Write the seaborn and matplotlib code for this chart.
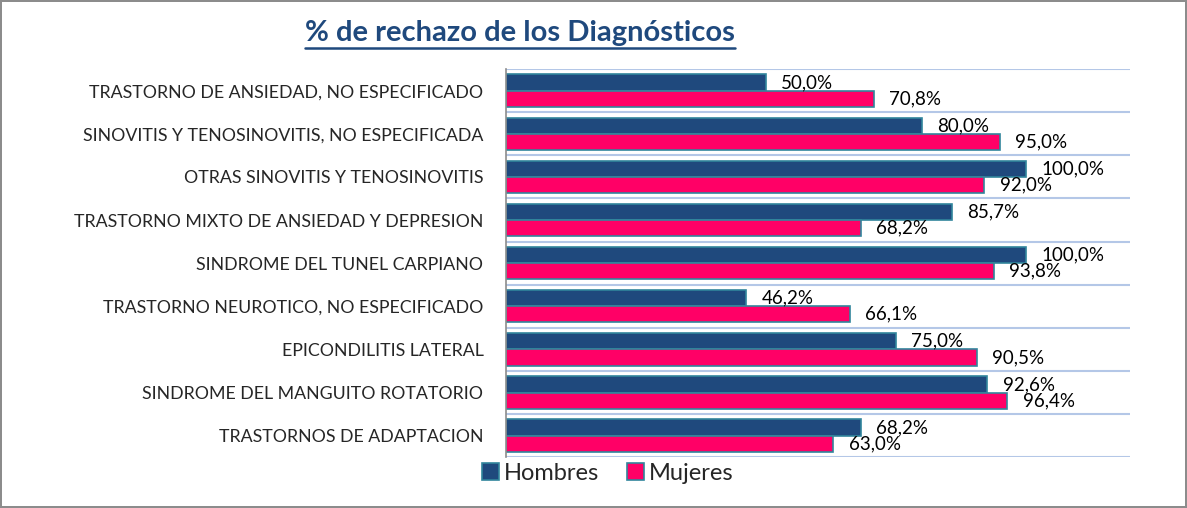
import numpy as np
import pandas as pd
import matplotlib
matplotlib.use("Agg")
import matplotlib.pyplot as plt
import seaborn as sns

# Diagnostic categories, top to bottom
categories = [
    "TRASTORNO DE ANSIEDAD, NO ESPECIFICADO",
    "SINOVITIS Y TENOSINOVITIS, NO ESPECIFICADA",
    "OTRAS SINOVITIS Y TENOSINOVITIS",
    "TRASTORNO MIXTO DE ANSIEDAD Y DEPRESION",
    "SINDROME DEL TUNEL CARPIANO",
    "TRASTORNO NEUROTICO, NO ESPECIFICADO",
    "EPICONDILITIS LATERAL",
    "SINDROME DEL MANGUITO ROTATORIO",
    "TRASTORNOS DE ADAPTACION",
]
hombres = [50.0, 80.0, 100.0, 85.7, 100.0, 46.2, 75.0, 92.6, 68.2]
mujeres = [70.8, 95.0, 92.0, 68.2, 93.8, 66.1, 90.5, 96.4, 63.0]
series = ["Hombres", "Mujeres"]
colors = ["#1F497D", "#FF0066"]

df = pd.DataFrame({
    "diag": categories * 2,
    "pct": hombres + mujeres,
    "sexo": [series[0]] * len(categories) + [series[1]] * len(categories),
})

sns.set_style("white")
plt.rcParams["font.family"] = ["Lato", "DejaVu Sans"]

fig = plt.figure(figsize=(11.87, 5.08), dpi=100)
fig.patch.set_edgecolor("#8C8C8C")
fig.patch.set_linewidth(1.5)
ax = fig.add_axes([0.426, 0.100, 0.526, 0.764])

sns.barplot(data=df, y="diag", x="pct", hue="sexo", order=categories,
            hue_order=series, palette=colors, width=0.75, orient="h",
            edgecolor="#31859C", linewidth=1.2, saturation=1, ax=ax)

# value labels with comma decimals
for cont, vals in zip(ax.containers, [hombres, mujeres]):
    ax.bar_label(cont, labels=[f"{v:.1f}%".replace(".", ",") for v in vals],
                 padding=11, fontsize=13.5, color="#000000")

ax.set_xlim(0, 120)
ax.set_ylim(len(categories) - 0.5, -0.5)
ax.set_xlabel("")
ax.set_ylabel("")
ax.set_xticks([])
ax.tick_params(axis="y", length=0, pad=16, labelsize=12.8)

# horizontal separators between categories
ax.set_yticks(np.arange(-0.5, len(categories), 1.0), minor=True)
ax.grid(which="minor", axis="y", color="#B4C7E7", linewidth=1.5)
ax.tick_params(which="minor", length=0)
for side in ["top", "right", "bottom"]:
    ax.spines[side].set_visible(False)
ax.spines["left"].set_color("#8C8C8C")
ax.spines["left"].set_linewidth(1.2)

ax.legend_.remove()
handles = [plt.Rectangle((0, 0), 1, 1, facecolor=c, edgecolor="#31859C", linewidth=1.2)
           for c in colors]
fig.legend(handles, series, loc="center", bbox_to_anchor=(0.512, 0.068), ncol=2,
           frameon=False, fontsize=17, handlelength=0.7, handleheight=0.7,
           handletextpad=0.2, columnspacing=1.2)

fig.text(0.438, 0.935, "% de rechazo de los Diagnósticos", ha="center", va="center",
         fontsize=21, fontweight="bold", color="#1F497D")
# underline for the title
fig.canvas.draw()
t = fig.texts[-1]
bb = t.get_window_extent().transformed(fig.transFigure.inverted())
fig.add_artist(plt.Line2D([bb.x0, bb.x1], [bb.y0 - 0.004, bb.y0 - 0.004],
                          color="#1F497D", linewidth=1.8, transform=fig.transFigure))

fig.savefig("out.png", dpi=100)
